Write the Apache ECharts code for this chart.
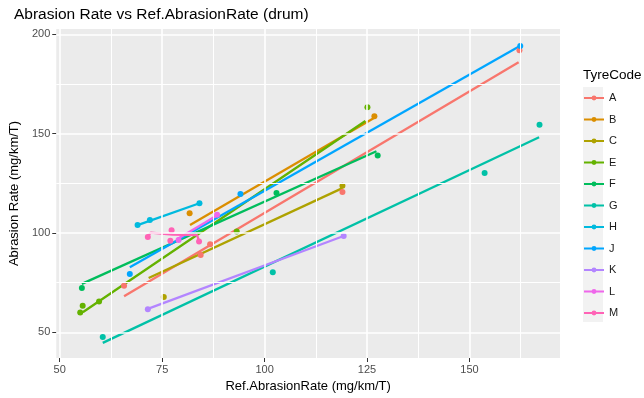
<!DOCTYPE html>
<html>
<head>
<meta charset="utf-8">
<script src="https://cdn.jsdelivr.net/npm/echarts@6/dist/echarts.min.js"></script>
<style>
  html, body { margin: 0; padding: 0; background: #fff; }
  #chart { width: 644px; height: 398px; }
</style>
</head>
<body>
<div id="chart"></div>
<script>
// tyre groups and ggplot hue colours
const tyreCodes = ['A', 'B', 'C', 'E', 'F', 'G', 'H', 'J', 'K', 'L', 'M']
const tyreColors = ['#F8766D', '#DB8E00', '#AEA200', '#64B200', '#00BD5C', '#00C1A7',
  '#00BADE', '#00A6FF', '#B385FF', '#EF67EB', '#FF63B6']

// fitted lines [ref rate, abrasion rate]
const fitA = [[65.7, 68.2], [162, 186]]
const fitB = [[81.8, 104], [126.6, 157.8]]
const fitC = [[71.7, 77.4], [119, 122.6]]
const fitE = [[54.5, 59.3], [55.8, 60.4], [124.6, 156.4]]
const fitF = [[55.4, 74.4], [127.3, 141.2]]
const fitG = [[60.5, 44.7], [167, 148.2]]
const fitH = [[69, 104], [84.1, 115]]
const fitJ = [[67.1, 82.8], [162.2, 194]]
const fitK = [[71.5, 61.8], [119.3, 98.5]]
const fitL = [[78.7, 97], [85.6, 105.4], [88.4, 109]]
const fitM = [[71.5, 98.5], [72.2, 100.2], [77.5, 99.2], [83.5, 99], [84, 96]]

// observed points
const ptsA = [[65.7, 73.5], [84.4, 89], [86.7, 94.4], [119, 120.6], [162.2, 192]]
const ptsB = [[81.7, 110], [126.8, 158.8]]
const ptsC = [[75.4, 67.8], [119, 123.8]]
const ptsE = [[55, 60], [55.6, 63.4], [59.6, 65.5], [93.2, 100.8], [125.1, 163.3]]
const ptsF = [[55.4, 72.3], [102.9, 120.1], [127.6, 139]]
const ptsG = [[60.5, 47.7], [102, 80.2], [153.7, 130.2], [167.1, 154.5]]
const ptsH = [[69, 104], [72, 106.5], [84.1, 115]]
const ptsJ = [[67.1, 79.4], [94.1, 119.6], [162.4, 194.2]]
const ptsK = [[71.5, 61.7], [119.3, 98.5]]
const ptsL = [[79, 96.5], [88.4, 109.2]]
const ptsM = [[71.5, 98], [77.3, 101.4], [77, 96.1], [84, 95.8]]

// axis breaks
const xTicks = [50, 75, 100, 125, 150]
const xMinor = [62.5, 87.5, 112.5, 137.5, 162.5]
const yTicks = [50, 100, 150, 200]
const yMinor = [75, 125, 175]

const fits = [fitA, fitB, fitC, fitE, fitF, fitG, fitH, fitJ, fitK, fitL, fitM]
const pts = [ptsA, ptsB, ptsC, ptsE, ptsF, ptsG, ptsH, ptsJ, ptsK, ptsL, ptsM]

const chart = echarts.init(document.getElementById('chart'))

const gridLines = []
xMinor.forEach(v => gridLines.push({ xAxis: v, lineStyle: { color: '#fff', width: 1, type: 'solid' } }))
yMinor.forEach(v => gridLines.push({ yAxis: v, lineStyle: { color: '#fff', width: 1, type: 'solid' } }))
xTicks.forEach(v => gridLines.push({ xAxis: v, lineStyle: { color: '#fff', width: 1.6, type: 'solid' } }))
yTicks.forEach(v => gridLines.push({ yAxis: v, lineStyle: { color: '#fff', width: 1.6, type: 'solid' } }))

const series = [{
  type: 'line',
  data: [],
  silent: true,
  z: 1,
  markLine: { silent: true, symbol: ['none', 'none'], label: { show: false }, data: gridLines }
}]

tyreCodes.forEach((code, i) => {
  series.push({
    name: code,
    type: 'line',
    data: fits[i],
    symbol: 'circle',
    symbolSize: 6,
    showSymbol: false,
    lineStyle: { color: tyreColors[i], width: 2.3 },
    itemStyle: { color: tyreColors[i] },
    emphasis: { disabled: true },
    z: 3
  })
  series.push({
    name: code,
    type: 'scatter',
    data: pts[i],
    symbolSize: 6,
    itemStyle: { color: tyreColors[i], opacity: 1 },
    emphasis: { disabled: true },
    z: 4
  })
})

const axisText = { color: '#4D4D4D', fontSize: 11, fontFamily: 'Liberation Sans' }

chart.setOption({
  animation: false,
  textStyle: { fontFamily: 'Liberation Sans' },
  title: [
    { text: 'Abrasion Rate vs Ref.AbrasionRate (drum)', left: 14, top: 7, padding: 0,
      textStyle: { fontSize: 15.5, fontWeight: 'normal', color: '#000' } },
    { text: 'TyreCode', left: 583, top: 68, padding: 0,
      textStyle: { fontSize: 13.5, fontWeight: 'normal', color: '#000' } }
  ],
  grid: { left: 55, right: 84, top: 29, bottom: 40, show: true, backgroundColor: '#EBEBEB', borderWidth: 0 },
  graphic: [{ type: 'rect', left: 583, top: 87, shape: { width: 20, height: 235 }, style: { fill: '#F2F2F2' }, z: -1 }],
  legend: {
    orient: 'vertical',
    left: 583,
    top: 91,
    padding: 0,
    data: tyreCodes,
    itemWidth: 20,
    itemHeight: 6,
    itemGap: 7.5,
    selectedMode: false,
    textStyle: { fontSize: 11, color: '#1A1A1A', lineHeight: 14 }
  },
  xAxis: {
    type: 'value',
    min: 49.15,
    max: 172.1,
    name: 'Ref.AbrasionRate (mg/km/T)',
    nameLocation: 'middle',
    nameGap: 19,
    nameTextStyle: { fontSize: 13, color: '#000' },
    axisLine: { show: false },
    axisTick: { show: true, length: 4, customValues: xTicks, lineStyle: { color: '#333' } },
    axisLabel: { ...axisText, margin: 6, customValues: xTicks },
    splitLine: { show: false }
  },
  yAxis: {
    type: 'value',
    min: 37.1,
    max: 202.7,
    name: 'Abrasion Rate (mg/km/T)',
    nameLocation: 'middle',
    nameGap: 34,
    nameTextStyle: { fontSize: 13, color: '#000' },
    axisLine: { show: false },
    axisTick: { show: true, length: 4, customValues: yTicks, lineStyle: { color: '#333' } },
    axisLabel: { ...axisText, margin: 6, customValues: yTicks },
    splitLine: { show: false }
  },
  series: series
})
</script>
</body>
</html>
